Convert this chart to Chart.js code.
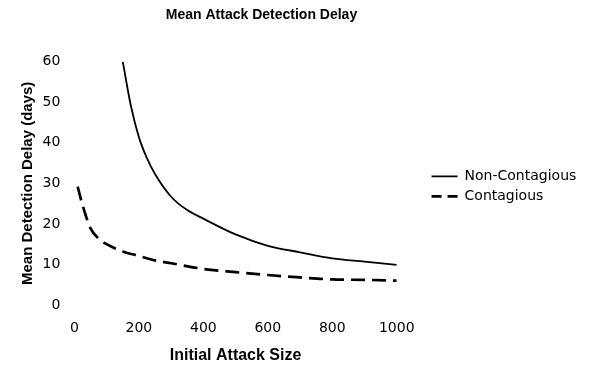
<!DOCTYPE html>
<html>
<head>
<meta charset="utf-8">
<script src="https://cdn.jsdelivr.net/npm/chart.js@4/dist/chart.umd.min.js"></script>
<style>
  html, body { margin: 0; padding: 0; background: #ffffff; }
  #wrap { width: 600px; height: 375px; }
</style>
</head>
<body>
<div id="wrap"><canvas id="c" width="600" height="375"></canvas></div>
<script>
const chartTitle = 'Mean Attack Detection Delay';
const xAxisTitle = 'Initial Attack Size';
const yAxisTitle = 'Mean Detection Delay (days)';
const seriesNames = ['Non-Contagious', 'Contagious'];

const nonContagiousX = [150, 175, 200, 225, 250, 300, 350, 400, 500, 600, 700, 800, 900, 1000];
const nonContagiousY = [60, 49.2, 41.4, 36.2, 32.3, 26.7, 23.4, 21.3, 17.4, 14.6, 13.0, 11.5, 10.7, 9.9];

const contagiousX = [10, 25, 50, 75, 100, 150, 200, 250, 300, 400, 500, 600, 700, 800, 900, 1000];
const contagiousY = [29.2, 24.7, 18.9, 16.4, 15.0, 13.2, 12.1, 11.0, 10.3, 8.9, 8.1, 7.4, 6.8, 6.3, 6.2, 6.0];

const xTickMin = 0, xTickMax = 1000, xTickStep = 200;
const yTickMin = 0, yTickMax = 60, yTickStep = 10;

function toPoints(xs, ys) { return xs.map((x, i) => ({ x: x, y: ys[i] })); }

Chart.defaults.color = '#000';

const tickFont = { family: '"DejaVu Sans", sans-serif', size: 14 };

const titlePlugin = {
  id: 'manualTitle',
  afterDraw(chart) {
    const c = chart.ctx;
    c.save();
    c.font = 'bold 14px "Liberation Sans", Arial, sans-serif';
    c.fillStyle = '#000';
    c.textAlign = 'center';
    c.textBaseline = 'middle';
    c.fillText(chartTitle, 261.5, 15.5);
    c.restore();
  }
};

new Chart(document.getElementById('c'), {
  type: 'line',
  data: {
    datasets: [
      {
        label: seriesNames[0],
        data: toPoints(nonContagiousX, nonContagiousY),
        borderColor: '#000',
        backgroundColor: '#000',
        borderWidth: 1.8,
        pointRadius: 0,
        cubicInterpolationMode: 'monotone',
        fill: false
      },
      {
        label: seriesNames[1],
        data: toPoints(contagiousX, contagiousY),
        borderColor: '#000',
        backgroundColor: '#000',
        borderWidth: 2.7,
        borderDash: [14, 7],
        pointRadius: 0,
        cubicInterpolationMode: 'monotone',
        fill: false
      }
    ]
  },
  options: {
    responsive: false,
    animation: false,
    devicePixelRatio: 1,
    layout: { padding: { top: 61.7, left: 4, right: 13.7, bottom: 0 } },
    plugins: {
      title: { display: false },
      tooltip: { enabled: false },
      legend: {
        display: true,
        position: 'right',
        align: 'center',
        fullSize: false,
        maxWidth: 220,
        title: { display: true, text: '', font: { size: 1 }, padding: { top: 0, bottom: 4.8 } },
        labels: {
          font: tickFont,
          color: '#000',
          padding: 6,
          usePointStyle: true,
          pointStyle: 'line',
          pointStyleWidth: 26,
          generateLabels(chart) {
            return Chart.defaults.plugins.legend.labels.generateLabels(chart).map((item) => {
              const ds = chart.data.datasets[item.datasetIndex];
              item.lineWidth = ds.borderWidth;
              item.strokeStyle = ds.borderColor;
              item.lineDash = ds.borderDash ? [10, 6] : [];
              return item;
            });
          }
        }
      }
    },
    scales: {
      x: {
        type: 'linear',
        position: 'bottom',
        min: xTickMin,
        max: xTickMax,
        grid: { display: false, drawTicks: false },
        border: { display: false },
        ticks: { stepSize: xTickStep, font: tickFont, color: '#000', padding: 15.3, maxRotation: 0,
                 callback: (v) => String(v) },
        title: {
          display: true,
          text: xAxisTitle,
          color: '#000',
          font: { family: '"Liberation Sans", Arial, sans-serif', size: 16, weight: 'bold' },
          padding: { top: -6, bottom: 9.4 }
        }
      },
      y: {
        type: 'linear',
        position: 'left',
        min: yTickMin,
        max: yTickMax,
        grid: { display: false, drawTicks: false },
        border: { display: false },
        ticks: { stepSize: yTickStep, font: tickFont, color: '#000', padding: 14,
                 callback: (v) => String(v) },
        title: {
          display: true,
          text: yAxisTitle,
          color: '#000',
          font: { family: '"Liberation Sans", Arial, sans-serif', size: 15, weight: 'bold' },
          padding: { top: 15, bottom: -8.4 }
        }
      },
      gap: {
        type: 'linear',
        position: 'right',
        display: true,
        grid: { display: false, drawTicks: false },
        border: { display: false },
        ticks: { display: false },
        afterFit(scale) { scale.width = 28.8; }
      }
    }
  },
  plugins: [titlePlugin]
});
</script>
</body>
</html>
